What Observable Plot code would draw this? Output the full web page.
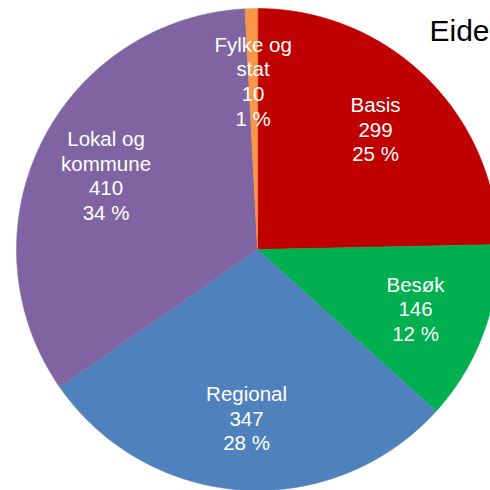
<!DOCTYPE html>
<html>
<head>
<meta charset="utf-8">
<script src="https://cdn.jsdelivr.net/npm/d3@7"></script>
<script src="https://cdn.jsdelivr.net/npm/@observablehq/plot@0.6"></script>
<style>
  html, body { margin: 0; padding: 0; background: #fff; }
  #chart svg { display: block; }
</style>
</head>
<body>
<div id="chart"></div>
<script>
const title = "Eide";
const categories = ["Basis", "Besøk", "Regional", "Lokal og kommune", "Fylke og stat"];
const labelNames = ["Basis", "Besøk", "Regional", "Lokal og\nkommune", "Fylke og\nstat"];
const values = [299, 146, 347, 410, 10];
const percents = [25, 12, 28, 34, 1];
const colors = ["#C00000", "#00B050", "#4F81BD", "#8064A2", "#F79646"];

const W = 490, H = 490;
const cx = 257, cy = 249, R = 241; // layout of the pie in the frame
const arcs = d3.pie().sort(null).value(d => d)(values);

// slice outlines in unit-radius coordinates (angle 0 at 12 o'clock, clockwise)
const slicePts = [];
arcs.forEach((a, i) => {
  slicePts.push({cat: categories[i], x: 0, y: 0});
  const n = Math.max(2, Math.ceil((a.endAngle - a.startAngle) / 0.005));
  for (let k = 0; k <= n; k++) {
    const t = a.startAngle + (a.endAngle - a.startAngle) * k / n;
    slicePts.push({cat: categories[i], x: Math.sin(t), y: Math.cos(t)});
  }
});

const labelR = 0.7;
const labels = arcs.map((a, i) => {
  const m = (a.startAngle + a.endAngle) / 2;
  return {
    x: labelR * Math.sin(m),
    y: labelR * Math.cos(m),
    text: `${labelNames[i]}\n${values[i]}\n${percents[i]} %`
  };
});

const chart = Plot.plot({
  width: W, height: H,
  margin: 0,
  style: {fontFamily: "'Liberation Sans', Arial, sans-serif", background: "#fff"},
  x: {domain: [-cx / R, (W - cx) / R], range: [0, W], axis: null},
  y: {domain: [-(H - cy) / R, cy / R], range: [H, 0], axis: null},
  color: {domain: categories, range: colors},
  marks: [
    Plot.line(slicePts, {x: "x", y: "y", z: "cat", fill: "cat", stroke: "cat", strokeWidth: 0.5, curve: "linear-closed"}),
    Plot.text(labels, {x: "x", y: "y", text: "text", fill: "white", fontSize: 20.5, lineHeight: 1.2, lineAnchor: "middle"}),
    Plot.text([title], {frameAnchor: "top-right", dx: -1, dy: 40, fontSize: 30, fill: "#000", lineAnchor: "bottom"})
  ]
});
document.getElementById("chart").append(chart);
</script>
</body>
</html>
